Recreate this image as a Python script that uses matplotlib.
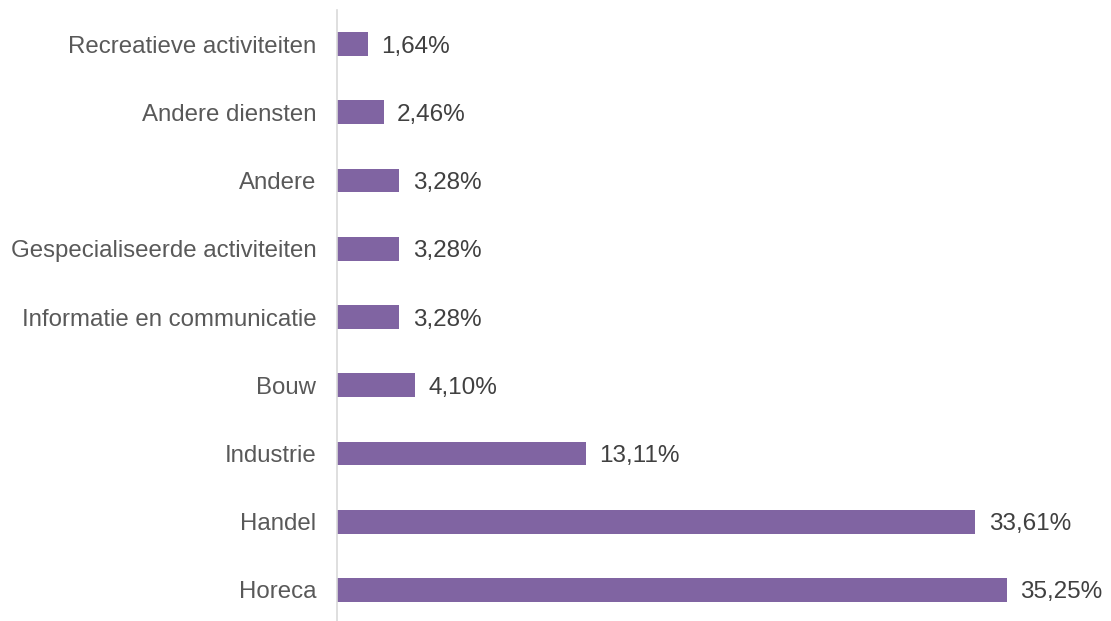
import matplotlib
matplotlib.use("Agg")
import matplotlib.pyplot as plt

categories = [
    "Horeca",
    "Handel",
    "Industrie",
    "Bouw",
    "Informatie en communicatie",
    "Gespecialiseerde activiteiten",
    "Andere",
    "Andere diensten",
    "Recreatieve activiteiten",
]
values = [35.25, 33.61, 13.11, 4.10, 3.28, 3.28, 3.28, 2.46, 1.64]

plt.rcParams["font.family"] = ["Liberation Sans", "DejaVu Sans"]
label_color = "#595959"
value_color = "#404040"

fig = plt.figure(figsize=(11.11, 6.21), dpi=100)
ax = fig.add_axes([0.3033, -0.005, 0.684, 0.989])

ax.barh(range(len(categories)), values, height=0.35, color="#8064A2")
ax.set_xlim(0, 40)
ax.set_ylim(-0.5, len(categories) - 0.5)
ax.set_yticks(range(len(categories)))
ax.set_yticklabels(categories, fontsize=17.3, color=label_color)
ax.tick_params(axis="y", length=0, pad=15)
ax.set_xticks([])

for i, v in enumerate(values):
    ax.text(v + 0.7, i, f"{v:.2f}".replace(".", ",") + "%", va="center_baseline",
            ha="left", fontsize=17.5, color=value_color)

for side in ["top", "right", "bottom"]:
    ax.spines[side].set_visible(False)
ax.spines["left"].set_color("#D9D9D9")
ax.spines["left"].set_linewidth(1.2)

fig.savefig("out.png", dpi=100)
